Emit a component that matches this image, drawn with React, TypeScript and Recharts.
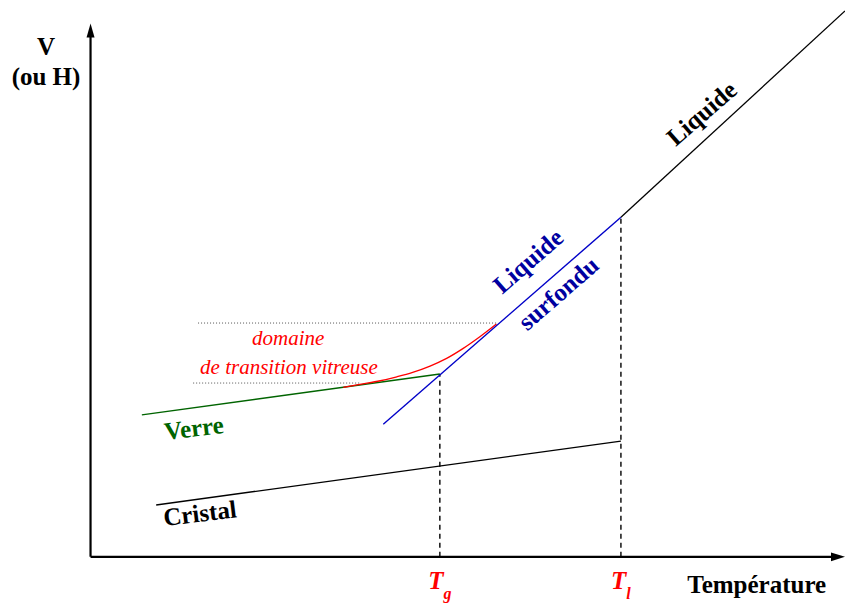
import { ComposedChart, Line, Scatter, XAxis, YAxis } from 'recharts';

// schematic units: T (temperature) and V (volume), axes origin at 0,0
const liquid = [
  { t: 70.3, v: 62.2 },
  { t: 100, v: 100 },
];

const supercooled = [
  { t: 38.8, v: 24.3 },
  { t: 70.3, v: 62.2 },
];

const transition = [
  { t: 33.5, v: 31.05 },
  { t: 35.7, v: 31.6 },
  { t: 38.4, v: 32.26 },
  { t: 40.6, v: 32.99 },
  { t: 42.7, v: 33.8 },
  { t: 45.0, v: 34.95 },
  { t: 47.2, v: 36.36 },
  { t: 49.4, v: 38.19 },
  { t: 51.6, v: 40.32 },
  { t: 53.8, v: 42.65 },
];

const glass = [
  { t: 6.8, v: 26.0 },
  { t: 46.3, v: 33.5 },
];

const crystal = [
  { t: 8.7, v: 9.5 },
  { t: 70.3, v: 21.2 },
];

const tgGuide = [
  { t: 46.3, v: 0 },
  { t: 46.3, v: 33.5 },
];

const tlGuide = [
  { t: 70.3, v: 0 },
  { t: 70.3, v: 62.2 },
];

const upperBound = [
  { t: 14.25, v: 42.83 },
  { t: 53.8, v: 42.83 },
];

const lowerBound = [
  { t: 13.6, v: 31.84 },
  { t: 35.7, v: 31.84 },
];

const axisT = [
  { t: 0, v: 0 },
  { t: 98.5, v: 0 },
];

const axisV = [
  { t: 0, v: 0 },
  { t: 0, v: 95.5 },
];

const arrowTips = [
  { t: 0, v: 97.7, dir: 'up' },
  { t: 100, v: 0, dir: 'right' },
];

type Note = { t: number; v: number; text: string; kind: string; sub?: string };

const notes: Note[] = [
  { t: -5.9, v: 91.9, text: 'V', kind: 'axis' },
  { t: -5.9, v: 86.4, text: '(ou H)', kind: 'axis' },
  { t: 88.3, v: -6.6, text: 'Température', kind: 'axis' },
  { t: 46.3, v: -5.9, text: 'T', sub: 'g', kind: 'temp' },
  { t: 70.3, v: -5.9, text: 'T', sub: 'l', kind: 'temp' },
  { t: 81.0, v: 81.25, text: 'Liquide', kind: 'liquid' },
  { t: 58.0, v: 54.2, text: 'Liquide', kind: 'supercooled' },
  { t: 62.0, v: 48.3, text: 'surfondu', kind: 'supercooled' },
  { t: 26.2, v: 38.8, text: 'domaine', kind: 'transition' },
  { t: 26.3, v: 33.43, text: 'de transition vitreuse', kind: 'transition' },
  { t: 13.7, v: 23.6, text: 'Verre', kind: 'glass' },
  { t: 14.5, v: 8.0, text: 'Cristal', kind: 'crystal' },
];

const FONT = '"Liberation Serif", "Times New Roman", serif';

const noteStyle: Record<
  string,
  { fill: string; size: number; weight: string; italic: boolean; angle: number; central: boolean }
> = {
  axis: { fill: '#000', size: 25, weight: 'bold', italic: false, angle: 0, central: false },
  temp: { fill: '#ff0000', size: 25, weight: 'bold', italic: true, angle: 0, central: false },
  liquid: { fill: '#000', size: 25, weight: 'bold', italic: false, angle: -41, central: true },
  supercooled: { fill: '#0000a0', size: 25, weight: 'bold', italic: false, angle: -41, central: true },
  transition: { fill: '#ff0000', size: 21, weight: 'normal', italic: true, angle: 0, central: false },
  glass: { fill: '#006400', size: 25, weight: 'bold', italic: false, angle: -7, central: true },
  crystal: { fill: '#000', size: 25, weight: 'bold', italic: false, angle: -7, central: true },
};

function NoteShape(props: any) {
  const { cx, cy, payload } = props;
  const s = noteStyle[payload.kind];
  return (
    <text
      x={cx}
      y={cy}
      textAnchor="middle"
      dominantBaseline={s.central ? 'central' : 'alphabetic'}
      transform={s.angle ? `rotate(${s.angle} ${cx} ${cy})` : undefined}
      fill={s.fill}
      fontFamily={FONT}
      fontSize={s.size}
      fontWeight={s.weight}
      fontStyle={s.italic ? 'italic' : 'normal'}
    >
      {payload.text}
      {payload.sub && (
        <tspan fontSize={16} dy={10}>
          {payload.sub}
        </tspan>
      )}
    </text>
  );
}

function ArrowHead(props: any) {
  const { cx, cy, payload } = props;
  const pts =
    payload.dir === 'up'
      ? `${cx},${cy} ${cx - 4},${cy + 14} ${cx + 4},${cy + 14}`
      : `${cx},${cy} ${cx - 14},${cy - 4.3} ${cx - 14},${cy + 4.3}`;
  return <polygon points={pts} fill="#000" />;
}

export default function App() {
  return (
    <div style={{ position: 'absolute', left: 0, top: 0, background: '#fff' }}>
      <ComposedChart
        width={845}
        height={606}
        margin={{ top: 0, right: 0, bottom: 0, left: 0 }}
      >
        <XAxis type="number" dataKey="t" domain={[-12, 100]} allowDataOverflow hide />
        <YAxis type="number" dataKey="v" domain={[-9, 102]} allowDataOverflow hide />

        <Line data={upperBound} dataKey="v" type="linear" stroke="#555" strokeWidth={1} strokeDasharray="1 2" dot={false} isAnimationActive={false} />
        <Line data={lowerBound} dataKey="v" type="linear" stroke="#555" strokeWidth={1} strokeDasharray="1 2" dot={false} isAnimationActive={false} />
        <Line data={tgGuide} dataKey="v" type="linear" stroke="#000" strokeWidth={1.4} strokeDasharray="5 4" dot={false} isAnimationActive={false} />
        <Line data={tlGuide} dataKey="v" type="linear" stroke="#000" strokeWidth={1.4} strokeDasharray="5 4" dot={false} isAnimationActive={false} />

        <Line data={crystal} dataKey="v" type="linear" stroke="#000" strokeWidth={1.3} dot={false} isAnimationActive={false} />
        <Line data={glass} dataKey="v" type="linear" stroke="#006400" strokeWidth={1.4} dot={false} isAnimationActive={false} />
        <Line data={transition} dataKey="v" type="monotone" stroke="#ff0000" strokeWidth={1.3} dot={false} isAnimationActive={false} />
        <Line data={supercooled} dataKey="v" type="linear" stroke="#0000c8" strokeWidth={1.4} dot={false} isAnimationActive={false} />
        <Line data={liquid} dataKey="v" type="linear" stroke="#000" strokeWidth={1.3} dot={false} isAnimationActive={false} />

        <Line data={axisT} dataKey="v" type="linear" stroke="#000" strokeWidth={2.2} dot={false} isAnimationActive={false} />
        <Line data={axisV} dataKey="v" type="linear" stroke="#000" strokeWidth={2.2} dot={false} isAnimationActive={false} />
        <Scatter data={arrowTips} dataKey="v" shape={ArrowHead} isAnimationActive={false} />

        <Scatter data={notes} dataKey="v" shape={NoteShape} isAnimationActive={false} />
      </ComposedChart>
    </div>
  );
}
